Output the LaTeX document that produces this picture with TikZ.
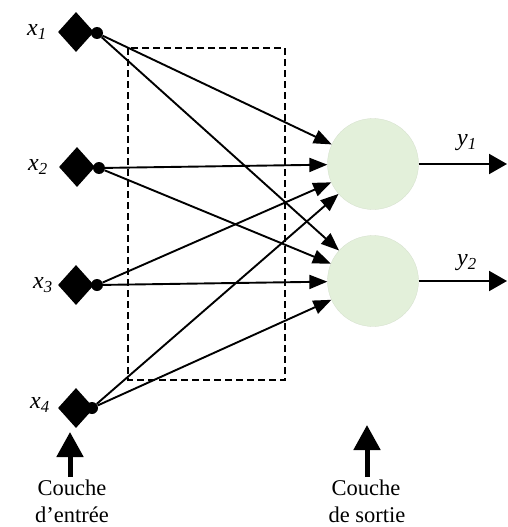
\documentclass[tikz,border=0pt]{standalone}
\usepackage{fontspec}
\setmainfont{Liberation Serif}
\usetikzlibrary{shapes.geometric,arrows.meta}
\definecolor{neuron}{HTML}{E3F0DA}
\begin{document}
\begin{tikzpicture}[x=1pt,y=-1pt,
  inputbox/.style={diamond,fill=black,inner sep=0,minimum width=36pt,minimum height=40pt},
  pin/.style={circle,fill=black,inner sep=0,minimum size=12pt},
  neuronbox/.style={circle,fill=neuron,draw=neuron!85!gray,line width=0.3pt,inner sep=0,minimum size=91pt},
  wire/.style={line width=1.9pt,-{Triangle[length=18pt,width=14pt]}},
  outwire/.style={line width=2pt,-{Triangle[length=18pt,width=20pt]}},
  bigarrow/.style={line width=5pt,-{Triangle[length=25pt,width=26pt]}},
  varlabel/.style={font=\fontsize{24}{26}\selectfont\itshape,inner sep=0},
  caption/.style={font=\fontsize{22.5}{27}\selectfont,inner sep=0,anchor=base}]
\useasboundingbox (0,0) rectangle (507,527);
\fill[white] (0,0) rectangle (507,527);

% hidden-layer frame
\draw[line width=1.6pt,dash pattern=on 7pt off 4pt] (128,48) rectangle (285,380);

% input units
\node[inputbox] (i1) at (76,32) {};
\node[inputbox] (i2) at (77,167) {};
\node[inputbox] (i3) at (76,285) {};
\node[inputbox] (i4) at (76,408) {};
\node[pin] (p1) at (97,33) {};
\node[pin] (p2) at (99,168) {};
\node[pin] (p3) at (97,285) {};
\node[pin] (p4) at (92,408) {};

\node[varlabel] (l1) at (37,32) {x\textsubscript{1}};
\node[varlabel] (l2) at (38,167) {x\textsubscript{2}};
\node[varlabel] (l3) at (43,285) {x\textsubscript{3}};
\node[varlabel] (l4) at (40,405) {x\textsubscript{4}};

% output units
\node[neuronbox] (n1) at (373,164) {};
\node[neuronbox] (n2) at (373,281) {};

% weighted connections
\foreach \p in {p1,p2,p3,p4}{
  \draw[wire] (\p) -- (n1);
  \draw[wire] (\p) -- (n2);
}

% outputs
\coordinate (o1) at (507,164);
\coordinate (o2) at (507,281);
\draw[outwire] (n1) -- (o1);
\draw[outwire] (n2) -- (o2);
\node[varlabel] (ly1) at (467,143) {y\textsubscript{1}};
\node[varlabel] (ly2) at (467,263) {y\textsubscript{2}};

% layer captions
\node[caption] (c1) at (72,495) {Couche};
\node[caption] (c1b) at (72,522) {d’entrée};
\node[caption] (c2) at (366,495) {Couche};
\node[caption] (c2b) at (367,522) {de sortie};
\coordinate (a1) at (70,432);
\coordinate (a2) at (367,425);
\draw[bigarrow] (c1.north -| a1) ++(0,-2) -- (a1);
\draw[bigarrow] (c2.north -| a2) ++(0,-2) -- (a2);
\end{tikzpicture}
\end{document}
